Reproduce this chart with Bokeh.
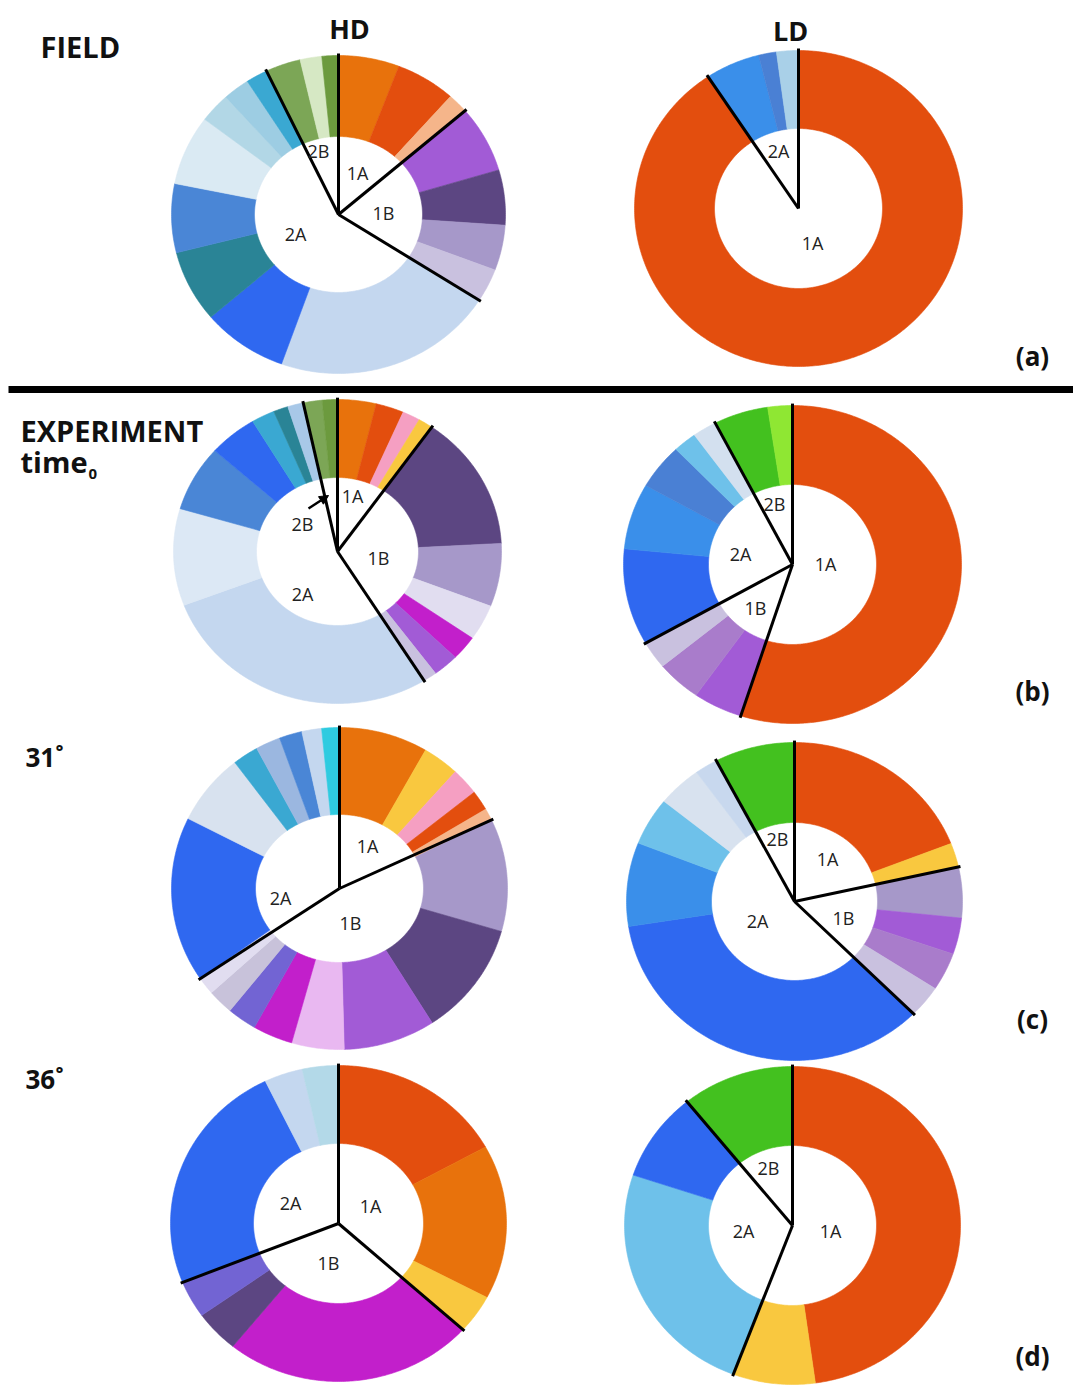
import numpy as np
from bokeh.plotting import figure
from bokeh.models import Range1d, Arrow, NormalHead
from bokeh.core.properties import value
from bokeh.embed import file_html
from bokeh.resources import INLINE

# ---------------------------------------------------------------------------
# Community composition per sample (% of total), clockwise from 12 o'clock.
# Each entry of *_groups names the clade the slice belongs to.
# ---------------------------------------------------------------------------
field_hd_groups = ["1A", "1A", "1A", "1B", "1B", "1B", "1B",
                   "2A", "2A", "2A", "2A", "2A", "2A", "2A", "2A",
                   "2B", "2B", "2B"]
field_hd_values = [5.9, 5.8, 2.0, 6.8, 5.6, 4.6, 3.4,
                   21.5, 8.3, 7.3, 7.0, 7.1, 3.0, 2.6, 2.1,
                   3.4, 2.1, 1.6]

field_ld_groups = ["1A", "2A", "2A", "2A"]
field_ld_values = [90.7, 5.4, 1.75, 2.15]

t0_hd_groups = ["1A", "1A", "1A", "1A",
                "1B", "1B", "1B", "1B", "1B", "1B",
                "2A", "2A", "2A", "2A", "2A", "2A", "2A",
                "2B", "2B"]
t0_hd_values = [3.8, 2.75, 1.75, 1.45,
                14.4, 6.7, 3.8, 2.6, 2.55, 1.35,
                28.1, 10.3, 7.0, 4.8, 2.3, 1.45, 1.55,
                1.85, 1.5]

t0_ld_groups = ["1A", "1B", "1B", "1B", "2A", "2A", "2A", "2A", "2A", "2B", "2B"]
t0_ld_values = [54.9, 4.7, 4.3, 2.8, 9.8, 6.7, 4.6, 2.25, 2.3, 5.2, 2.35]

t31_hd_groups = ["1A", "1A", "1A", "1A", "1A",
                 "1B", "1B", "1B", "1B", "1B", "1B", "1B", "1B",
                 "2A", "2A", "2A", "2A", "2A", "2A", "2A"]
t31_hd_values = [8.55, 3.55, 2.7, 2.0, 1.2,
                 11.3, 11.4, 8.85, 5.05, 3.85, 2.85, 2.5, 1.75,
                 16.6, 7.15, 2.5, 2.4, 2.2, 1.9, 1.7]

t31_ld_groups = ["1A", "1A", "1B", "1B", "1B", "1B",
                 "2A", "2A", "2A", "2A", "2A", "2B"]
t31_ld_values = [19.05, 2.45, 5.15, 3.7, 3.85, 3.25,
                 35.0, 8.5, 4.85, 4.25, 2.2, 7.7]

t36_hd_groups = ["1A", "1A", "1A", "1B", "1B", "1B", "2A", "2A", "2A"]
t36_hd_values = [16.95, 15.8, 3.97, 24.1, 4.3, 3.8, 23.9, 3.7, 3.47]

t36_ld_groups = ["1A", "1A", "2A", "2A", "2B"]
t36_ld_values = [47.8, 7.9, 24.4, 9.05, 10.8]

# ---------------------------------------------------------------------------
# Slice colours
# ---------------------------------------------------------------------------
ORANGE = "#e8720c"
RED = "#e34e0e"
PEACH = "#f5b58a"
PINK = "#f59fc2"
YELLOW = "#f9c83f"
PURPLE = "#a25bd6"
DKPURPLE = "#5c4682"
LAVENDER = "#a698c9"
LTLAV = "#c9c1df"
VLTLAV = "#e1ddf0"
PINKLAV = "#e9b8f1"
MAGENTA = "#c21fcb"
SLATE = "#7264d3"
LAVGREY = "#c8c2da"
MEDPURPLE = "#a97ccb"
PALEBLUE = "#c4d7ef"
BLUE = "#2f68f0"
AZURE = "#3a8fea"
TEAL = "#2a8496"
MEDBLUE = "#4a86d6"
MEDBLUE2 = "#4a80d4"
ICE = "#daeaf3"
ICE2 = "#dce8f5"
ICE3 = "#d3e0ef"
ICE4 = "#d8e2ef"
PALEBLUE2 = "#c8d8ee"
LTSKY = "#b2d7e6"
LTSKY2 = "#b3d9e8"
SKY = "#9dcde3"
SKYLD = "#6ec1ea"
STEEL = "#9bb7e0"
STEEL2 = "#a8c8e8"
CYAN = "#3aa8d2"
AQUA = "#2fcbe0"
GREEN = "#7ca656"
LTGREEN = "#d6e8c4"
DKGREEN = "#6c9a3e"
BRGREEN = "#43c11f"
LIME = "#8fe733"

field_hd_colors = [ORANGE, RED, PEACH, PURPLE, DKPURPLE, LAVENDER, LTLAV,
                   PALEBLUE, BLUE, TEAL, MEDBLUE, ICE, LTSKY, SKY, CYAN,
                   GREEN, LTGREEN, DKGREEN]
field_ld_colors = [RED, AZURE, MEDBLUE2, "#a9d0e8"]
t0_hd_colors = [ORANGE, RED, PINK, YELLOW,
                DKPURPLE, LAVENDER, VLTLAV, MAGENTA, PURPLE, LTLAV,
                PALEBLUE, ICE2, MEDBLUE, BLUE, CYAN, TEAL, STEEL2,
                GREEN, DKGREEN]
t0_ld_colors = [RED, PURPLE, MEDPURPLE, LTLAV, BLUE, AZURE, MEDBLUE2, SKYLD,
                ICE3, BRGREEN, LIME]
t31_hd_colors = [ORANGE, YELLOW, PINK, RED, PEACH,
                 LAVENDER, DKPURPLE, PURPLE, PINKLAV, MAGENTA, SLATE, LAVGREY, VLTLAV,
                 BLUE, ICE4, CYAN, STEEL, MEDBLUE, PALEBLUE, AQUA]
t31_ld_colors = [RED, YELLOW, LAVENDER, PURPLE, MEDPURPLE, LTLAV,
                 BLUE, AZURE, SKYLD, ICE4, PALEBLUE2, BRGREEN]
t36_hd_colors = [RED, ORANGE, YELLOW, MAGENTA, DKPURPLE, SLATE, BLUE, PALEBLUE, LTSKY2]
t36_ld_colors = [RED, YELLOW, SKYLD, BLUE, BRGREEN]

# ---------------------------------------------------------------------------
# Layout: donut centre, outer / inner radii (x, y) and clade label offsets
# ---------------------------------------------------------------------------
panels = [
    dict(values=field_hd_values, groups=field_hd_groups, colors=field_hd_colors,
         center=(338, 214), outer=(167, 159), inner=(84, 78),
         labels={"1A": (19, -42), "1B": (45, -2), "2A": (-43, 19), "2B": (-20, -64)}),
    dict(values=field_ld_values, groups=field_ld_groups, colors=field_ld_colors,
         center=(798, 208), outer=(164, 158), inner=(84, 80),
         labels={"2A": (-20, -58), "1A": (14, 34)}),
    dict(values=t0_hd_values, groups=t0_hd_groups, colors=t0_hd_colors,
         center=(337, 551), outer=(164, 152), inner=(81, 74),
         labels={"1A": (15, -56), "2B": (-35, -28), "1B": (41, 6), "2A": (-35, 42)}),
    dict(values=t0_ld_values, groups=t0_ld_groups, colors=t0_ld_colors,
         center=(792, 564), outer=(169, 159), inner=(84, 80),
         labels={"2B": (-18, -61), "2A": (-52, -11), "1A": (33, -1), "1B": (-37, 43)}),
    dict(values=t31_hd_values, groups=t31_hd_groups, colors=t31_hd_colors,
         center=(339, 888), outer=(168, 161), inner=(84, 74),
         labels={"1A": (28, -43), "2A": (-59, 9), "1B": (11, 34)}),
    dict(values=t31_ld_values, groups=t31_ld_groups, colors=t31_ld_colors,
         center=(794, 901), outer=(168, 159), inner=(83, 79),
         labels={"2B": (-17, -63), "1A": (33, -43), "2A": (-37, 19), "1B": (49, 16)}),
    dict(values=t36_hd_values, groups=t36_hd_groups, colors=t36_hd_colors,
         center=(338, 1223), outer=(168, 158), inner=(85, 80),
         labels={"2A": (-48, -21), "1A": (32, -18), "1B": (-10, 39)}),
    dict(values=t36_ld_values, groups=t36_ld_groups, colors=t36_ld_colors,
         center=(792, 1225), outer=(168, 159), inner=(84, 80),
         labels={"2B": (-24, -58), "2A": (-49, 5), "1A": (38, 5)}),
]

W, H = 1073, 1387
p = figure(width=W, height=H, output_backend="svg", toolbar_location=None,
           x_range=Range1d(0, W), y_range=Range1d(H, 0),
           x_axis_location=None, y_axis_location=None, min_border=0,
           background_fill_color="white", border_fill_color="white")
p.grid.visible = False
p.outline_line_color = None

LABEL_FONT = value("Open Sans")


def ring_slice(cx, cy, R, r, a0, a1):
    n = max(3, int(np.degrees(a1 - a0) * 1.5) + 2)
    t = np.linspace(a0, a1, n)
    xo = cx + R[0] * np.sin(t)
    yo = cy - R[1] * np.cos(t)
    xi = cx + r[0] * np.sin(t[::-1])
    yi = cy - r[1] * np.cos(t[::-1])
    return list(np.concatenate([xo, xi])), list(np.concatenate([yo, yi]))


for pan in panels:
    vals = np.asarray(pan["values"], dtype=float)
    frac = vals / vals.sum()
    edges = np.concatenate([[0.0], np.cumsum(frac)]) * 2 * np.pi
    cx, cy = pan["center"]
    xs, ys = [], []
    for a0, a1 in zip(edges[:-1], edges[1:]):
        x, y = ring_slice(cx, cy, pan["outer"], pan["inner"], a0, a1)
        xs.append(x)
        ys.append(y)
    p.patches(xs, ys, fill_color=pan["colors"], line_color=pan["colors"], line_width=0.6)

    # clade boundaries
    groups = pan["groups"]
    bounds = [edges[i] for i in range(len(groups)) if groups[i] != groups[i - 1]]
    bx = [cx + 1.012 * pan["outer"][0] * np.sin(a) for a in bounds]
    by = [cy - 1.012 * pan["outer"][1] * np.cos(a) for a in bounds]
    p.segment(x0=[cx] * len(bounds), y0=[cy] * len(bounds), x1=bx, y1=by,
              line_color="black", line_width=3)

    names = list(pan["labels"].keys())
    p.text(x=[cx + pan["labels"][k][0] for k in names],
           y=[cy + pan["labels"][k][1] for k in names],
           text=names, text_font=LABEL_FONT, text_font_size="18px",
           text_color="#222222", text_align="center", text_baseline="middle")

# arrow pointing into the thin 2B wedge at time 0
cx0, cy0 = panels[2]["center"]
p.add_layout(Arrow(end=NormalHead(size=9, fill_color="black", line_color="black"),
                   x_start=cx0 - 29, y_start=cy0 - 43, x_end=cx0 - 9, y_end=cy0 - 56,
                   line_color="black", line_width=2.5))

# section rule between field and experiment
p.segment(x0=[8], y0=[389], x1=[W], y1=[389], line_color="black", line_width=7)

HEAD_FONT = value("Open Sans")
p.text(x=[349, 790], y=[28, 30], text=["HD", "LD"], text_font=HEAD_FONT,
       text_font_style="bold", text_font_size="27px", text_color="#111111",
       text_align="center", text_baseline="middle")
p.text(x=[40, 20], y=[46, 430], text=["FIELD", "EXPERIMENT"], text_font=HEAD_FONT,
       text_font_style="bold", text_font_size="29px", text_color="#111111",
       text_align="left", text_baseline="middle")
p.text(x=[20], y=[461], text=["time"], text_font=HEAD_FONT,
       text_font_style="bold", text_font_size="29px", text_color="#111111",
       text_align="left", text_baseline="middle")
p.text(x=[88], y=[473], text=["0"], text_font=HEAD_FONT,
       text_font_style="bold", text_font_size="15px", text_color="#111111",
       text_align="left", text_baseline="middle")
p.text(x=[25, 25], y=[756, 1078], text=["31˚", "36˚"], text_font=HEAD_FONT,
       text_font_style="bold", text_font_size="26px", text_color="#111111",
       text_align="left", text_baseline="middle")
p.text(x=[1032, 1032, 1032, 1032], y=[355, 690, 1018, 1355],
       text=["(a)", "(b)", "(c)", "(d)"], text_font=HEAD_FONT,
       text_font_style="bold", text_font_size="26px", text_color="#111111",
       text_align="center", text_baseline="middle")

open("out.html", "w").write(file_html(p, INLINE))
